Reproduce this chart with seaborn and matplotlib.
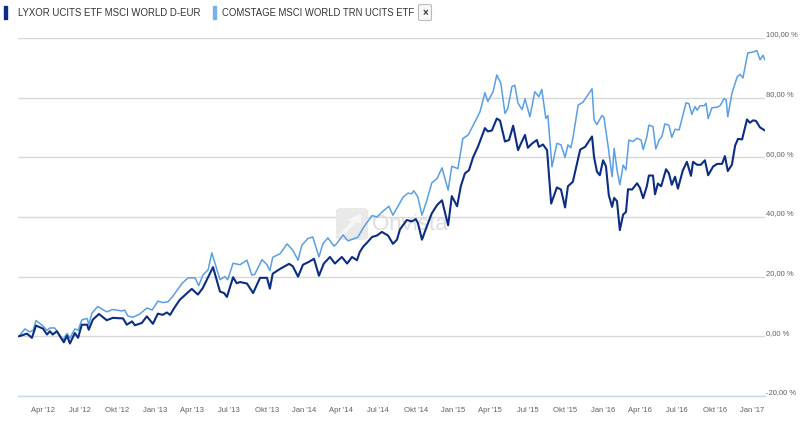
import matplotlib
matplotlib.use("Agg")
import matplotlib.pyplot as plt
import matplotlib.dates as mdates
import matplotlib.transforms as mtransforms
from matplotlib.patches import Rectangle, FancyBboxPatch, FancyArrow
import seaborn as sns
import pandas as pd

# LYXOR UCITS ETF MSCI WORLD D-EUR, Wertentwicklung in %
lyxor_dates = [
    "2012-02-03", "2012-02-23", "2012-03-06", "2012-03-16", "2012-04-02", "2012-04-12", "2012-04-19",
    "2012-04-26", "2012-05-06", "2012-05-23", "2012-05-31", "2012-06-07", "2012-06-19", "2012-06-27",
    "2012-07-06", "2012-07-19", "2012-07-23", "2012-08-02", "2012-08-17", "2012-09-05", "2012-09-20",
    "2012-10-15", "2012-10-24", "2012-11-06", "2012-11-13", "2012-11-30", "2012-12-12", "2012-12-27",
    "2013-01-08", "2013-01-20", "2013-01-30", "2013-02-07", "2013-02-19", "2013-03-03", "2013-04-01",
    "2013-04-16", "2013-04-28", "2013-05-23", "2013-06-09", "2013-06-19", "2013-06-26", "2013-07-11",
    "2013-07-20", "2013-07-28", "2013-08-14", "2013-08-29", "2013-09-15", "2013-10-02", "2013-10-09",
    "2013-10-16", "2013-11-03", "2013-11-25", "2013-12-04", "2013-12-17", "2013-12-29", "2014-01-13",
    "2014-01-25", "2014-02-06", "2014-02-18", "2014-03-05", "2014-03-17", "2014-04-03", "2014-04-16",
    "2014-04-28", "2014-05-10", "2014-05-17", "2014-05-25", "2014-06-03", "2014-06-16", "2014-06-28",
    "2014-07-10", "2014-07-25", "2014-08-06", "2014-08-16", "2014-08-23", "2014-09-09", "2014-09-21",
    "2014-10-01", "2014-10-06", "2014-10-16", "2014-10-28", "2014-11-09", "2014-11-22", "2014-12-04",
    "2014-12-19", "2014-12-28", "2015-01-10", "2015-01-19", "2015-01-29", "2015-02-08", "2015-02-18",
    "2015-03-02", "2015-03-19", "2015-03-26", "2015-04-05", "2015-04-17", "2015-04-25", "2015-05-07",
    "2015-05-17", "2015-05-27", "2015-06-08", "2015-06-15", "2015-06-25", "2015-07-02", "2015-07-12",
    "2015-07-24", "2015-07-29", "2015-08-08", "2015-08-18", "2015-08-28", "2015-09-11", "2015-09-21",
    "2015-10-01", "2015-10-08", "2015-10-20", "2015-11-07", "2015-11-19", "2015-12-06", "2015-12-11",
    "2015-12-18", "2015-12-25", "2016-01-02", "2016-01-09", "2016-01-16", "2016-01-24", "2016-01-29",
    "2016-02-05", "2016-02-12", "2016-02-20", "2016-02-27", "2016-03-03", "2016-03-13", "2016-03-25",
    "2016-04-01", "2016-04-09", "2016-04-18", "2016-04-23", "2016-05-03", "2016-05-08", "2016-05-15",
    "2016-05-23", "2016-06-04", "2016-06-11", "2016-06-18", "2016-06-26", "2016-07-03", "2016-07-15",
    "2016-07-25", "2016-08-04", "2016-08-09", "2016-08-19", "2016-08-28", "2016-09-07", "2016-09-15",
    "2016-09-27", "2016-10-07", "2016-10-19", "2016-10-26", "2016-11-02", "2016-11-12", "2016-11-20",
    "2016-11-27", "2016-12-07", "2016-12-19", "2016-12-26", "2017-01-03", "2017-01-10", "2017-01-20",
    "2017-02-01",
]
lyxor_pct = [
    0.0, 0.9, -0.5, 3.6, 2.6, 0.6, 1.7,
    0.6, 1.7, -2.0, 0.2, -2.4, 1.1, -0.5,
    3.9, 3.9, 2.2, 5.6, 7.5, 5.4, 6.2,
    6.0, 3.9, 5.0, 3.7, 4.5, 6.7, 4.2,
    7.6, 7.2, 8.0, 7.2, 9.9, 12.3, 15.9,
    14.0, 16.2, 23.2, 15.0, 14.5, 13.2, 19.8,
    17.8, 18.2, 17.7, 14.5, 19.6, 19.6, 16.0,
    21.0, 22.6, 24.3, 23.5, 20.0, 24.0, 25.0,
    26.0, 20.3, 24.4, 26.6, 24.4, 26.6, 24.4,
    26.6, 25.5, 28.3, 30.0, 31.3, 33.3, 33.8,
    35.0, 33.8, 31.0, 32.4, 35.8, 39.0, 38.5,
    39.3, 38.0, 32.4, 36.9, 41.2, 44.0, 45.6,
    37.2, 47.0, 43.6, 50.3, 54.6, 55.7, 60.0,
    63.6, 69.8, 68.7, 69.0, 73.0, 72.3, 65.3,
    65.8, 70.6, 62.4, 64.6, 67.5, 63.2, 64.6,
    65.8, 63.5, 64.3, 62.4, 44.5, 49.9, 49.2,
    43.2, 50.3, 51.8, 62.6, 63.5, 67.0, 60.0,
    55.2, 54.0, 59.0, 57.0, 47.3, 43.4, 46.4,
    45.3, 35.6, 40.8, 41.7, 49.3, 49.2, 51.3,
    49.8, 46.3, 50.3, 53.9, 53.9, 47.6, 51.2,
    50.3, 56.0, 54.6, 50.8, 53.5, 49.5, 55.6,
    58.5, 53.8, 58.5, 57.5, 57.5, 59.0, 54.0,
    56.9, 57.8, 57.8, 60.4, 55.4, 57.5, 64.0,
    66.2, 66.0, 72.7, 71.6, 72.4, 72.2, 70.0,
    69.0,
]

# COMSTAGE MSCI WORLD TRN UCITS ETF, Wertentwicklung in %
comstage_dates = [
    "2012-02-03", "2012-02-18", "2012-03-01", "2012-03-09", "2012-03-16", "2012-04-02", "2012-04-12",
    "2012-04-19", "2012-05-01", "2012-05-21", "2012-05-31", "2012-06-07", "2012-06-19", "2012-06-27",
    "2012-07-06", "2012-07-19", "2012-07-23", "2012-07-31", "2012-08-14", "2012-09-05", "2012-09-20",
    "2012-10-12", "2012-10-19", "2012-10-27", "2012-11-08", "2012-11-25", "2012-12-12", "2012-12-25",
    "2013-01-08", "2013-01-20", "2013-02-02", "2013-02-14", "2013-03-08", "2013-03-23", "2013-04-09",
    "2013-04-18", "2013-04-28", "2013-05-11", "2013-05-20", "2013-06-09", "2013-06-21", "2013-06-28",
    "2013-07-11", "2013-07-28", "2013-08-14", "2013-08-26", "2013-09-02", "2013-09-20", "2013-10-02",
    "2013-10-09", "2013-10-16", "2013-11-03", "2013-11-20", "2013-12-04", "2013-12-17", "2013-12-26",
    "2014-01-10", "2014-01-22", "2014-02-06", "2014-02-16", "2014-02-28", "2014-03-15", "2014-03-22",
    "2014-04-06", "2014-04-18", "2014-04-30", "2014-05-12", "2014-05-27", "2014-06-16", "2014-06-28",
    "2014-07-13", "2014-07-27", "2014-08-06", "2014-08-18", "2014-08-31", "2014-09-12", "2014-09-21",
    "2014-09-26", "2014-10-06", "2014-10-16", "2014-10-28", "2014-11-09", "2014-11-22", "2014-12-04",
    "2014-12-19", "2014-12-28", "2015-01-12", "2015-01-24", "2015-02-06", "2015-02-23", "2015-03-07",
    "2015-03-19", "2015-03-26", "2015-04-08", "2015-04-17", "2015-04-27", "2015-05-07", "2015-05-14",
    "2015-05-24", "2015-05-31", "2015-06-08", "2015-06-18", "2015-06-25", "2015-07-07", "2015-07-19",
    "2015-07-29", "2015-08-05", "2015-08-15", "2015-08-20", "2015-08-30", "2015-09-11", "2015-09-21",
    "2015-10-01", "2015-10-08", "2015-10-15", "2015-10-20", "2015-11-02", "2015-11-14", "2015-12-01",
    "2015-12-06", "2015-12-11", "2015-12-18", "2015-12-30", "2016-01-04", "2016-01-14", "2016-01-24",
    "2016-01-29", "2016-02-05", "2016-02-12", "2016-02-20", "2016-02-27", "2016-03-05", "2016-03-15",
    "2016-03-25", "2016-04-04", "2016-04-09", "2016-04-18", "2016-04-23", "2016-05-03", "2016-05-10",
    "2016-05-18", "2016-05-25", "2016-06-01", "2016-06-11", "2016-06-18", "2016-06-26", "2016-07-06",
    "2016-07-23", "2016-07-30", "2016-08-06", "2016-08-14", "2016-08-19", "2016-08-26", "2016-09-05",
    "2016-09-10", "2016-09-15", "2016-09-24", "2016-10-07", "2016-10-14", "2016-10-24", "2016-10-29",
    "2016-11-02", "2016-11-12", "2016-11-25", "2016-12-02", "2016-12-09", "2016-12-21", "2017-01-03",
    "2017-01-12", "2017-01-20", "2017-01-27", "2017-02-01",
]
comstage_pct = [
    0.0, 2.5, 1.5, 2.0, 5.3, 3.5, 2.0,
    2.8, 2.8, -1.2, 1.0, -0.6, 2.5, 2.0,
    5.5, 6.0, 4.0, 7.8, 10.0, 8.2, 9.0,
    8.5, 8.8, 6.8, 6.4, 7.5, 9.5, 8.8,
    11.8, 11.3, 11.6, 13.5, 17.7, 19.6, 19.6,
    17.0, 20.5, 22.3, 28.0, 19.0, 20.0, 19.0,
    24.5, 24.0, 25.5, 20.5, 20.8, 25.7, 24.0,
    22.0, 26.5, 27.7, 31.0, 28.9, 25.5, 30.5,
    32.8, 33.3, 26.6, 31.1, 33.0, 30.2, 31.2,
    34.0, 32.0, 32.6, 33.2, 36.7, 40.5, 40.0,
    42.0, 43.6, 40.6, 43.5, 46.7, 48.0, 47.8,
    48.8, 46.7, 40.6, 45.6, 51.4, 52.9, 56.5,
    49.0, 57.0, 56.2, 66.3, 67.5, 72.0, 75.3,
    81.7, 78.7, 82.0, 87.6, 84.8, 74.7, 76.4,
    83.7, 84.2, 78.1, 76.0, 79.6, 73.6, 82.0,
    80.3, 82.8, 73.0, 74.0, 56.8, 64.7, 64.2,
    60.0, 64.2, 63.2, 66.3, 77.5, 78.5, 82.0,
    83.0, 72.5, 71.0, 74.0, 73.5, 64.0, 53.5,
    63.0, 55.8, 50.8, 57.4, 55.8, 65.8, 65.3,
    66.4, 65.8, 62.6, 66.9, 70.8, 70.3, 62.8,
    65.8, 67.0, 71.2, 70.8, 66.7, 69.4, 69.2,
    78.3, 78.0, 74.4, 77.0, 75.8, 77.3, 77.3,
    78.1, 73.0, 76.6, 76.8, 77.3, 79.7, 79.3,
    73.6, 81.4, 87.0, 87.8, 86.6, 95.0, 95.3,
    95.8, 92.7, 94.2, 92.6,
]

y_ticks = [-20, 0, 20, 40, 60, 80, 100]
y_tick_labels = ["-20,00 %", "0,00 %", "20,00 %", "40,00 %", "60,00 %", "80,00 %", "100,00 %"]

x_tick_dates = [
    "2012-04-01", "2012-07-01", "2012-10-01", "2013-01-01", "2013-04-01", "2013-07-01", "2013-10-01",
    "2014-01-01", "2014-04-01", "2014-07-01", "2014-10-01", "2015-01-01", "2015-04-01", "2015-07-01",
    "2015-10-01", "2016-01-01", "2016-04-01", "2016-07-01", "2016-10-01", "2017-01-01",
]
x_tick_labels = [
    "Apr '12", "Jul '12", "Okt '12", "Jan '13", "Apr '13", "Jul '13", "Okt '13",
    "Jan '14", "Apr '14", "Jul '14", "Okt '14", "Jan '15", "Apr '15", "Jul '15",
    "Okt '15", "Jan '16", "Apr '16", "Jul '16", "Okt '16", "Jan '17",
]

DARK = "#0b2e83"
LIGHT = "#5a9fe3"

sns.set_style("white")
plt.rcParams['font.family'] = ['Liberation Sans', 'DejaVu Sans']

df_lyxor = pd.DataFrame({"datum": pd.to_datetime(lyxor_dates), "pct": lyxor_pct})
df_comstage = pd.DataFrame({"datum": pd.to_datetime(comstage_dates), "pct": comstage_pct})

fig = plt.figure(figsize=(8, 4.33), dpi=100)
W, H = 800, 433
ax = fig.add_axes([18 / W, 1 - 396 / H, (765 - 18) / W, (396 - 38) / H])

sns.lineplot(data=df_comstage, x="datum", y="pct", color=LIGHT, linewidth=1.1,
             errorbar=None, ax=ax, zorder=3)
sns.lineplot(data=df_lyxor, x="datum", y="pct", color=DARK, linewidth=1.5,
             errorbar=None, ax=ax, zorder=4)

ax.set_xlim(pd.Timestamp("2012-02-01"), pd.Timestamp("2017-02-01"))
ax.set_ylim(-20, 100)
ax.set_xlabel("")
ax.set_ylabel("")

# Achsen im Highcharts-Stil
for s in ["top", "left", "right"]:
    ax.spines[s].set_visible(False)
ax.spines["bottom"].set_color("#ccd6eb")
ax.spines["bottom"].set_linewidth(1)
ax.set_axisbelow(True)
ax.yaxis.grid(True, color="#d8d8d8", linewidth=1)
ax.xaxis.grid(False)

ax.set_yticks(y_ticks)
ax.set_yticklabels(y_tick_labels)
ax.yaxis.tick_right()
ax.tick_params(axis="y", length=0, pad=1, labelsize=5.5, labelcolor="#606060")
shift = mtransforms.ScaledTranslation(0, 4 / 100, fig.dpi_scale_trans)
for lab in ax.get_yticklabels():
    lab.set_transform(lab.get_transform() + shift)

ax.set_xticks(mdates.date2num(pd.to_datetime(x_tick_dates)))
ax.set_xticklabels(x_tick_labels)
ax.tick_params(axis="x", length=6, width=1, color="#ccd6eb", pad=2,
               labelsize=5.5, labelcolor="#606060", direction="out")

# Wasserzeichen (Logo + Schriftzug)
ax.add_patch(FancyBboxPatch((336 / W, 1 - 240 / H), 32 / W, 32 / H,
                            boxstyle="round,pad=0,rounding_size=0.006",
                            transform=fig.transFigure, fc="#e9e9e9", ec="none", zorder=1))
ax.add_patch(FancyArrow(341 / W, 1 - 236 / H, 20 / W, 22 / H, width=0.006,
                        head_width=0.02, head_length=0.02, length_includes_head=True,
                        transform=fig.transFigure, fc="#f6f6f6", ec="none", zorder=1))
ax.text(372 / W, 1 - 225 / H, "Onvista", transform=fig.transFigure, fontsize=16,
        color="#dedede", va="center", ha="left", zorder=1)

# Legende oben
ty = 1 - 12.8 / H
fig.patches.append(Rectangle((4 / W, 1 - 18.5 / H), 3 / W, 12 / H,
                             transform=fig.transFigure, color=DARK))
fig.text(18 / W, ty, "LYXOR UCITS ETF MSCI WORLD D-EUR", fontsize=6.9,
         va="center", color="#333333")
fig.patches.append(Rectangle((213 / W, 1 - 18.5 / H), 3 / W, 12 / H,
                             transform=fig.transFigure, color="#7ab0ea"))
fig.text(221.5 / W, ty, "COMSTAGE MSCI WORLD TRN UCITS ETF", fontsize=6.85,
         va="center", color="#333333")
fig.patches.append(FancyBboxPatch((418.5 / W, 1 - 20.5 / H), 13 / W, 16 / H,
                                  boxstyle="round,pad=0,rounding_size=0.003",
                                  transform=fig.transFigure, fc="#f7f7f7",
                                  ec="#bbbbbb", lw=0.8))
fig.text(425 / W, 1 - 12.5 / H, "\u00d7", fontsize=7, fontweight="bold",
         va="center", ha="center", color="#333333")

fig.savefig("out.png", dpi=100)
